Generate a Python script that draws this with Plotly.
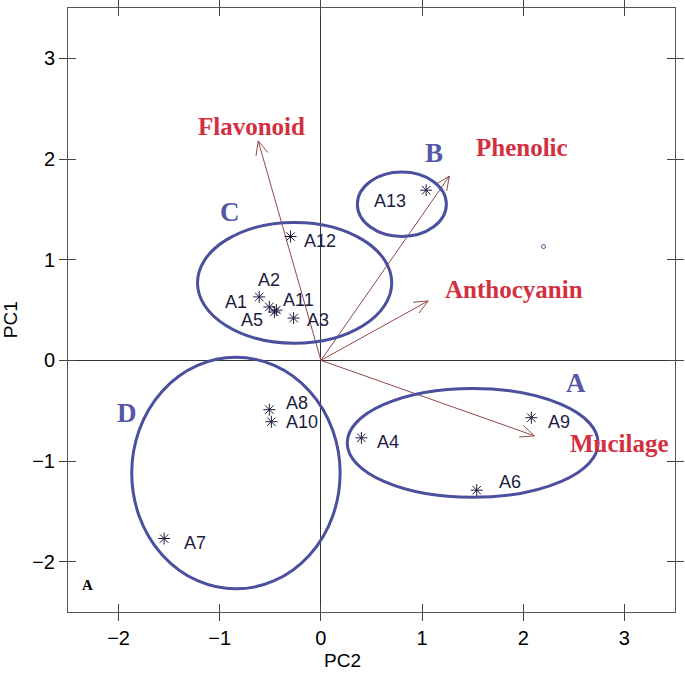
import numpy as np
import plotly.graph_objects as go

# ---------------- data ----------------
samples = ["A1", "A2", "A3", "A4", "A5", "A6", "A7", "A8", "A9", "A10", "A11", "A12", "A13"]
pc2_scores = [-0.51, -0.61, -0.27, 0.40, -0.46, 1.54, -1.55, -0.51, 2.08, -0.49, -0.44, -0.30, 1.04]
pc1_scores = [0.53, 0.63, 0.42, -0.77, 0.48, -1.29, -1.77, -0.49, -0.57, -0.61, 0.50, 1.23, 1.69]

variables = ["Flavonoid", "Phenolic", "Anthocyanin", "Mucilage"]
load_pc2 = [-0.62, 1.27, 1.06, 2.11]
load_pc1 = [2.18, 1.83, 0.59, -0.75]
var_label_pc2 = [-0.69, 1.99, 1.91, 2.95]
var_label_pc1 = [2.32, 2.11, 0.70, -0.83]

groups = ["A", "B", "C", "D"]
group_center_pc2 = [1.50, 0.80, -0.26, -0.84]
group_center_pc1 = [-0.82, 1.55, 0.77, -1.12]
group_radius_pc2 = [1.24, 0.44, 0.96, 1.03]
group_radius_pc1 = [0.54, 0.32, 0.60, 1.15]
group_label_pc2 = [2.52, 1.12, -0.90, -1.92]
group_label_pc1 = [-0.23, 2.06, 1.47, -0.52]

stray_pc2 = [2.20]
stray_pc1 = [1.13]

tick_vals = [-2, -1, 0, 1, 2, 3]
axis_range = [-2.5, 3.5]

# ---------------- styles ----------------
label_shift = {  # pixel offsets of point labels (dx, dy; dy up)
    "A1": (-33, 5), "A2": (10, 17), "A3": (24, -2), "A4": (27, -4), "A5": (-22, -8),
    "A6": (33, 8), "A7": (31, -4), "A8": (28, 7), "A9": (28, -4), "A10": (31, 0),
    "A11": (22, 10), "A12": (29, -4), "A13": (-36, -11),
}
ELL_COLOR = "#4A4F9E"
GRP_COLOR = "#5457A8"
VAR_COLOR = "#D3303F"
ARROW_COLOR = "#8E4A48"
PT_COLOR = "#1C1C40"

fig = go.Figure()

# group ellipses
for cx, cy, rx, ry in zip(group_center_pc2, group_center_pc1, group_radius_pc2, group_radius_pc1):
    fig.add_shape(type="circle", xref="x", yref="y",
                  x0=cx - rx, x1=cx + rx, y0=cy - ry, y1=cy + ry,
                  line=dict(color=ELL_COLOR, width=3))

# loading arrows (shaft + open head)
head_len = 0.15
head_ang = np.deg2rad(24)
for vx, vy in zip(load_pc2, load_pc1):
    ang = np.arctan2(vy, vx)
    b1 = (vx - head_len * np.cos(ang - head_ang), vy - head_len * np.sin(ang - head_ang))
    b2 = (vx - head_len * np.cos(ang + head_ang), vy - head_len * np.sin(ang + head_ang))
    xs = [0, vx, None, b1[0], vx, b2[0]]
    ys = [0, vy, None, b1[1], vy, b2[1]]
    fig.add_trace(go.Scatter(x=xs, y=ys, mode="lines",
                             line=dict(color=ARROW_COLOR, width=1),
                             hoverinfo="skip", showlegend=False))

# sample points
fig.add_trace(go.Scatter(x=pc2_scores, y=pc1_scores, mode="markers",
                         marker=dict(symbol="asterisk-open", size=10, color=PT_COLOR,
                                     line=dict(color=PT_COLOR, width=1)),
                         text=samples, showlegend=False))
fig.add_trace(go.Scatter(x=stray_pc2, y=stray_pc1, mode="markers",
                         marker=dict(symbol="circle-open", size=4, color=ELL_COLOR,
                                     line=dict(color=ELL_COLOR, width=1)),
                         showlegend=False))

# point labels
for s, x, y in zip(samples, pc2_scores, pc1_scores):
    dx, dy = label_shift[s]
    fig.add_annotation(x=x, y=y, text=s, showarrow=False, xshift=dx, yshift=dy,
                       font=dict(family="Liberation Sans", size=18, color=PT_COLOR))

# variable labels
for v, x, y in zip(variables, var_label_pc2, var_label_pc1):
    fig.add_annotation(x=x, y=y, text=v, showarrow=False,
                       font=dict(family="Liberation Serif", size=25, color=VAR_COLOR, weight="bold"))

# group labels
for g, x, y in zip(groups, group_label_pc2, group_label_pc1):
    fig.add_annotation(x=x, y=y, text=g, showarrow=False,
                       font=dict(family="Liberation Serif", size=27, color=GRP_COLOR, weight="bold"))

# panel letter
fig.add_annotation(xref="paper", yref="paper", x=0.02, y=0.045, text="A", showarrow=False,
                   xanchor="left", yanchor="middle",
                   font=dict(family="Liberation Serif", size=15, color="black", weight="bold"))

# axis titles
fig.add_annotation(xref="paper", yref="paper", x=0.453, y=0, yshift=-48, text="PC2",
                   showarrow=False, xanchor="center", yanchor="middle",
                   font=dict(family="Liberation Sans", size=19, color="black"))
fig.add_annotation(xref="paper", yref="paper", x=0, y=0.483, xshift=-58, text="PC1",
                   textangle=-90, showarrow=False, xanchor="center", yanchor="middle",
                   font=dict(family="Liberation Sans", size=19, color="black"))

# invisible trace for overlay axes
fig.add_trace(go.Scatter(x=[0], y=[0], xaxis="x2", yaxis="y2", mode="markers",
                         marker=dict(opacity=0), hoverinfo="skip", showlegend=False))

tickfont = dict(family="Liberation Sans", size=20, color="black")
common = dict(range=axis_range, tickvals=tick_vals, ticklen=8, tickcolor="#444",
              showgrid=False, automargin=False)
fig.update_layout(
    width=685, height=682,
    margin=dict(l=68, r=10, t=8, b=70, autoexpand=False),
    paper_bgcolor="white", plot_bgcolor="white",
    xaxis=dict(**common, ticks="outside", showline=True, linecolor="#555", linewidth=1,
               mirror="ticks", zeroline=True, zerolinecolor="#333", zerolinewidth=1,
               tickfont=tickfont),
    yaxis=dict(**common, ticks="outside", showline=True, linecolor="#555", linewidth=1,
               mirror="ticks", zeroline=True, zerolinecolor="#333", zerolinewidth=1,
               tickfont=tickfont),
    xaxis2=dict(**common, ticks="inside", overlaying="x", anchor="y2", mirror="ticks",
                showline=False, zeroline=False, showticklabels=False),
    yaxis2=dict(**common, ticks="inside", overlaying="y", anchor="x2", mirror="ticks",
                showline=False, zeroline=False, showticklabels=False),
    showlegend=False,
)

fig.write_html("out.html", config={"displayModeBar": False},
               post_script="document.body.style.margin='0px';document.body.style.overflow='hidden';")
